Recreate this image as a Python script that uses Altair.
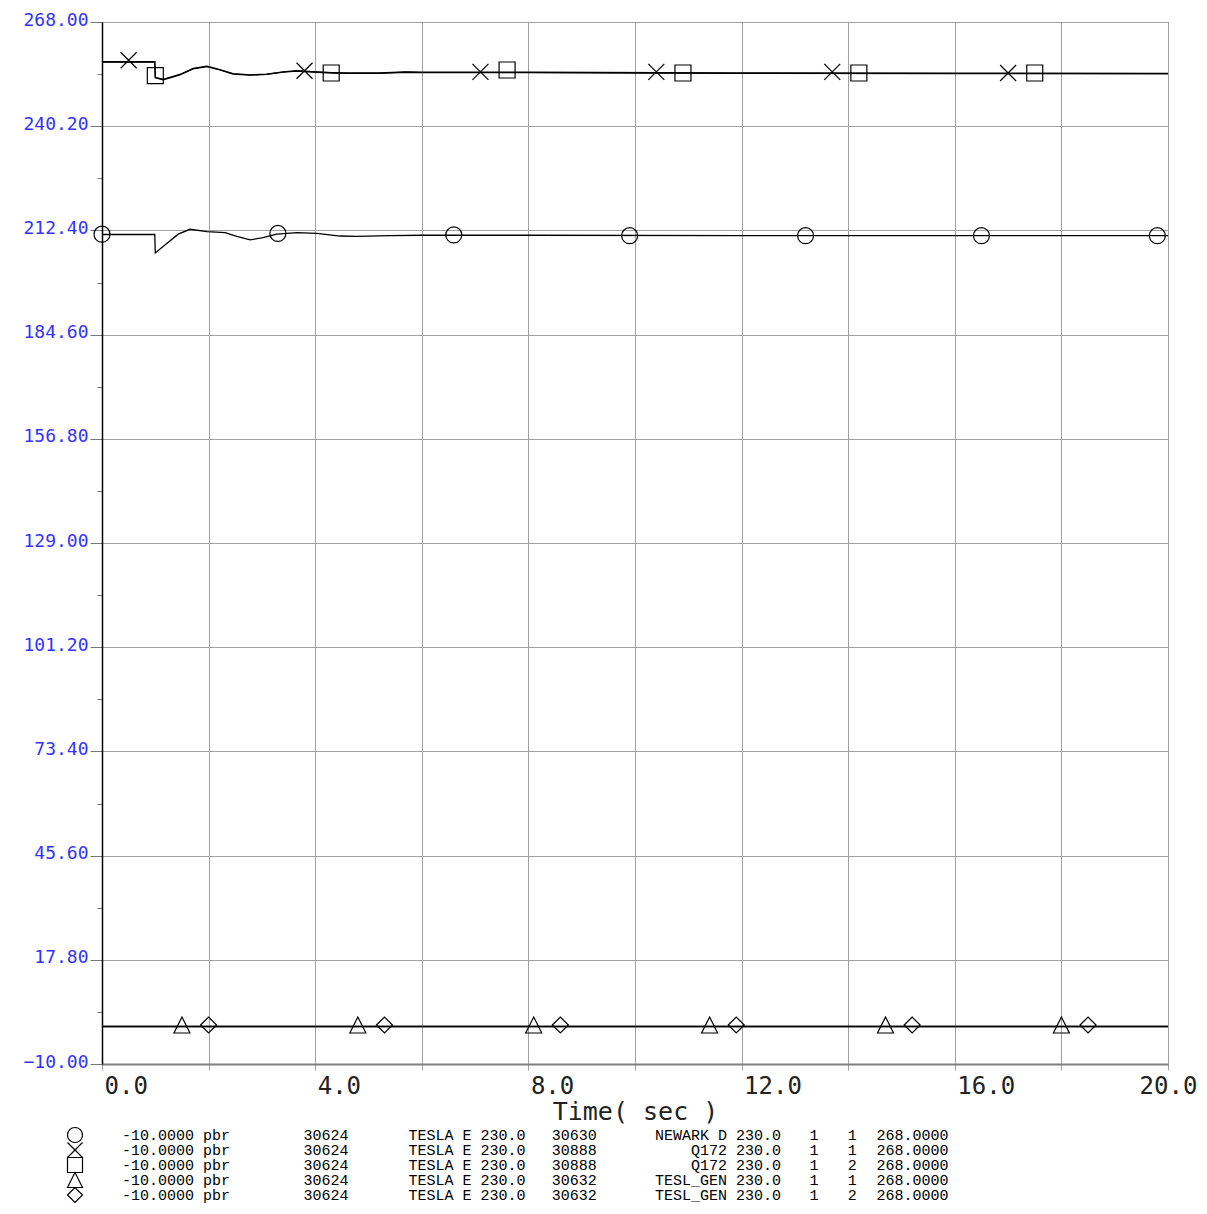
import altair as alt
import pandas as pd

# ---------------- data ----------------
SERIES = ["NEWARK", "Q172_1", "Q172_2", "TESL_1", "TESL_2"]

newark_t = [0.0, 0.99, 1.0, 1.22, 1.43, 1.65, 1.97, 2.31, 2.53, 2.78, 3.0, 3.28,
            3.66, 4.03, 4.47, 4.78, 5.4, 6.0, 8.0, 12.0, 16.0, 20.0]
newark_v = [211.3, 211.3, 206.4, 209.0, 211.4, 212.7, 212.1, 211.8, 210.8, 209.9,
            210.4, 211.4, 211.8, 211.6, 210.9, 210.8, 211.0, 211.1, 211.1, 211.0,
            211.0, 211.0]

q172_1_t = [0.0, 0.99, 1.0, 1.15, 1.46, 1.71, 1.97, 2.21, 2.46, 2.78, 3.09, 3.4,
            3.65, 4.03, 4.33, 4.6, 5.2, 5.7, 6.0, 8.0, 11.8, 16.0, 20.0]
q172_1_v = [257.4, 257.4, 253.2, 252.7, 254.0, 255.6, 256.2, 255.3, 254.2, 253.9,
            254.1, 254.7, 255.0, 254.7, 254.5, 254.4, 254.4, 254.7, 254.6, 254.6,
            254.4, 254.35, 254.3]

q172_2_t = [0.0, 0.99, 1.0, 1.15, 1.46, 1.71, 1.97, 2.21, 2.46, 2.78, 3.09, 3.4,
            3.65, 4.03, 4.33, 4.6, 5.2, 5.7, 6.0, 8.0, 11.8, 16.0, 20.0]
q172_2_v = [257.3, 257.3, 253.1, 252.6, 253.9, 255.5, 256.1, 255.2, 254.1, 253.8,
            254.0, 254.6, 254.9, 254.6, 254.4, 254.3, 254.3, 254.6, 254.5, 254.5,
            254.3, 254.25, 254.2]

tesl_1_t = [0.0, 20.0]
tesl_1_v = [0.0, 0.0]
tesl_2_t = [0.0, 20.0]
tesl_2_v = [0.0, 0.0]

# marker positions (time, value) per series
newark_mt = [0.0, 3.3, 6.6, 9.9, 13.2, 16.5, 19.8]
newark_mv = [211.4, 211.6, 211.2, 211.0, 211.0, 211.0, 211.0]
q172_1_mt = [0.5, 3.8, 7.1, 10.4, 13.7, 17.0]
q172_1_mv = [257.8, 255.0, 254.7, 254.7, 254.7, 254.4]
q172_2_mt = [1.0, 4.3, 7.6, 10.9, 14.2, 17.5]
q172_2_mv = [253.7, 254.4, 255.2, 254.4, 254.4, 254.4]
tesl_1_mt = [1.5, 4.8, 8.1, 11.4, 14.7, 18.0]
tesl_1_mv = [0.4, 0.4, 0.4, 0.4, 0.4, 0.4]
tesl_2_mt = [2.0, 5.3, 8.6, 11.9, 15.2, 18.5]
tesl_2_mv = [0.4, 0.4, 0.4, 0.4, 0.4, 0.4]

# axis ticks
y_major = [-10.0, 17.8, 45.6, 73.4, 101.2, 129.0, 156.8, 184.6, 212.4, 240.2, 268.0]
y_minor = [3.9, 31.7, 59.5, 87.3, 115.1, 142.9, 170.7, 198.5, 226.3, 254.1]
x_ticks = [0, 2, 4, 6, 8, 10, 12, 14, 16, 18, 20]

# legend texts
leg_col1 = ["-10.0000 pbr"] * 5
leg_col2 = ["30624"] * 5
leg_col3 = ["TESLA E 230.0"] * 5
leg_col3b = ["30630", "30888", "30888", "30632", "30632"]
leg_col4 = ["NEWARK D 230.0", "Q172 230.0", "Q172 230.0", "TESL_GEN 230.0", "TESL_GEN 230.0"]
leg_col5 = ["1", "1", "1", "1", "1"]
leg_col6 = ["1", "1", "2", "1", "2"]
leg_col7 = ["268.0000"] * 5

# ---------------- tables ----------------
line_sets = [(newark_t, newark_v), (q172_1_t, q172_1_v), (q172_2_t, q172_2_v),
             (tesl_1_t, tesl_1_v), (tesl_2_t, tesl_2_v)]
rows = []
for name, (ts, vs) in zip(SERIES, line_sets):
    for i, (t, v) in enumerate(zip(ts, vs)):
        rows.append({"series": name, "t": t, "v": v, "i": i})
lines_df = pd.DataFrame(rows)

marker_sets = [(newark_mt, newark_mv), (q172_1_mt, q172_1_mv), (q172_2_mt, q172_2_mv),
               (tesl_1_mt, tesl_1_mv), (tesl_2_mt, tesl_2_mv)]
rows = []
for name, (ts, vs) in zip(SERIES, marker_sets):
    for t, v in zip(ts, vs):
        rows.append({"series": name, "t": t, "v": v})
markers_df = pd.DataFrame(rows)

# legend layout (pixel positions relative to plot origin)
W, H = 1066, 1042
ROW0, ROWH = 1113, 15
CH = 9.55
X0 = 20
leg_marker_y = [1113, 1128, 1143, 1158, 1173]
legend_markers_df = pd.DataFrame({"series": SERIES, "py": leg_marker_y})

cols_left = [(leg_col1, 0), (leg_col2, 19), (leg_col3, 30), (leg_col3b, 45),
             (leg_col5, 72), (leg_col6, 76), (leg_col7, 79)]
rows = []
for col, cell in cols_left:
    for r, txt in enumerate(col):
        rows.append({"text": txt, "px": X0 + cell * CH, "py": ROW0 + r * ROWH})
legend_left_df = pd.DataFrame(rows)
rows = []
for r, txt in enumerate(leg_col4):
    rows.append({"text": txt, "px": X0 + 69 * CH, "py": ROW0 + r * ROWH})
legend_right_df = pd.DataFrame(rows)

# ---------------- chart ----------------
MINOR = "abs((datum.value + 10) / 27.8 - round((datum.value + 10) / 27.8)) > 0.25"
MONO = "DejaVu Sans Mono"
GRID = "#a0a0a0"

x_enc = alt.X(
    "t:Q",
    scale=alt.Scale(domain=[0, 20], nice=False, zero=False),
    axis=alt.Axis(
        values=x_ticks, grid=True, gridColor=GRID, gridWidth=1,
        tickSize=6, tickColor=GRID,
        labelExpr="datum.value % 4 == 0 ? format(datum.value, '.1f') : ''",
        labelAlign={"condition": {"test": "datum.value >= 20", "value": "center"}, "value": "left"},
        labelOffset={"condition": {"test": "datum.value >= 20", "value": 0}, "value": 2},
        labelBaseline="alphabetic", labelPadding=23, labelFlush=False, labelOverlap=False,
        labelFont=MONO, labelFontSize=24, labelColor="#222222",
        domainColor="#808080", domainWidth=2,
        title="Time( sec )", titleFont=MONO, titleFontSize=25, titleFontWeight="normal",
        titleColor="#222222", titleBaseline="alphabetic", titleY=55,
    ),
)
y_enc = alt.Y(
    "v:Q",
    scale=alt.Scale(domain=[-10, 268], nice=False, zero=False),
    axis=alt.Axis(
        values=y_major + y_minor, grid=True, gridColor=GRID, gridWidth=1,
        gridOpacity={"condition": {"test": MINOR, "value": 0}, "value": 1},
        tickSize={"condition": {"test": MINOR, "value": 5}, "value": 12},
        tickColor="#777777",
        labelExpr=f"({MINOR}) ? '' : format(datum.value, '.2f')",
        labelBaseline="alphabetic", labelPadding=2, labelOffset=3,
        labelFlush=False, labelOverlap=False,
        labelFont=MONO, labelFontSize=18, labelColor="#3333ff",
        domainColor="#000000", domainWidth=1.5, title=None,
    ),
)

shape_scale = alt.Scale(
    domain=SERIES,
    range=["circle", "M-1,-1L1,1M-1,1L1,-1", "square", "M0,-1L-1,1L1,1Z", "diamond"],
)

lines = alt.Chart(lines_df).mark_line(color="black", strokeWidth=1.3).encode(
    x=x_enc, y=y_enc, detail="series:N", order="i:Q"
)

points = alt.Chart(markers_df).mark_point(
    filled=False, size=256, strokeWidth=1.2, color="black", opacity=1
).encode(
    x="t:Q", y="v:Q",
    shape=alt.Shape("series:N", scale=shape_scale, legend=None),
)

leg_points = alt.Chart(legend_markers_df).mark_point(
    filled=False, size=225, strokeWidth=1.2, color="black", opacity=1
).encode(
    x=alt.value(-27),
    y=alt.Y("py:Q", scale=None),
    shape=alt.Shape("series:N", scale=shape_scale, legend=None),
)

leg_text_left = alt.Chart(legend_left_df).mark_text(
    font="Liberation Mono", fontSize=15, align="left", baseline="middle", color="black"
).encode(
    x=alt.X("px:Q", scale=None), y=alt.Y("py:Q", scale=None), text="text:N"
)
leg_text_right = alt.Chart(legend_right_df).mark_text(
    font="Liberation Mono", fontSize=15, align="right", baseline="middle", color="black"
).encode(
    x=alt.X("px:Q", scale=None), y=alt.Y("py:Q", scale=None), text="text:N"
)

chart = alt.layer(lines, points, leg_points, leg_text_left, leg_text_right).properties(
    width=W, height=H,
    autosize=alt.AutoSizeParams(type="none"),
    padding={"left": 94, "top": 14, "right": 31, "bottom": 142},
    background="white",
).configure_view(stroke="#333333", strokeWidth=1)

chart.save("out.html", embed_options={"renderer": "svg", "actions": False})
